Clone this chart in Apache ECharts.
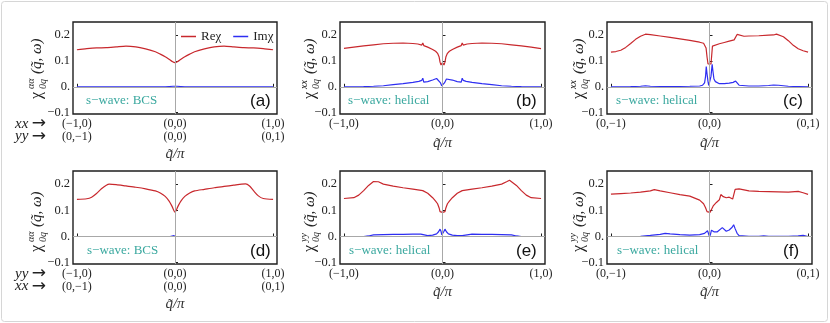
<!DOCTYPE html>
<html>
<head>
<meta charset="utf-8">
<script src="https://cdn.jsdelivr.net/npm/echarts@6/dist/echarts.min.js"></script>
<style>
  html, body { margin: 0; padding: 0; background: #fff; }
  #chart { width: 830px; height: 323px; }
</style>
</head>
<body>
<div id="chart"></div>
<script>
// tick positions and labels
const tickX = [-1, 0, 1];
const tickY = [-0.1, 0, 0.1, 0.2];
const labXline = ['(−1,0)', '(0,0)', '(1,0)'];
const labYline = ['(0,−1)', '(0,0)', '(0,1)'];

// (a) xx / yy, BCS
const reQA = [-1, -0.9, -0.8, -0.7, -0.6, -0.5, -0.4, -0.3, -0.2, -0.15, -0.1, -0.06, -0.03, 0, 0.03, 0.06, 0.1, 0.15, 0.2, 0.3, 0.4, 0.5, 0.6, 0.7, 0.8, 0.9, 1];
const reA  = [0.143, 0.147, 0.150, 0.151, 0.154, 0.157, 0.154, 0.146, 0.135, 0.126, 0.116, 0.106, 0.098, 0.093, 0.098, 0.106, 0.116, 0.126, 0.135, 0.146, 0.154, 0.157, 0.154, 0.151, 0.150, 0.147, 0.143];
const imQA = [-1, -0.1, -0.02, 0, 0.02, 0.1, 1];
const imA  = [0, 0, 0.002, 0, 0.002, 0, 0];

// (b) xx, helical
const reQB = [-1, -0.9, -0.8, -0.7, -0.6, -0.5, -0.4, -0.3, -0.25, -0.21, -0.2, -0.19, -0.15, -0.1, -0.07, -0.05, -0.035, -0.025, -0.015, -0.005, 0, 0.005, 0.015, 0.025, 0.035, 0.05, 0.07, 0.1, 0.15, 0.19, 0.2, 0.21, 0.25, 0.3, 0.4, 0.5, 0.6, 0.7, 0.8, 0.9, 1];
const reB  = [0.148, 0.153, 0.158, 0.162, 0.166, 0.168, 0.169, 0.167, 0.165, 0.161, 0.169, 0.159, 0.153, 0.144, 0.137, 0.129, 0.116, 0.095, 0.084, 0.088, 0.093, 0.088, 0.084, 0.095, 0.116, 0.129, 0.137, 0.144, 0.153, 0.159, 0.169, 0.161, 0.165, 0.167, 0.169, 0.168, 0.166, 0.162, 0.158, 0.153, 0.147];
const imQB = [-1, -0.8, -0.7, -0.6, -0.5, -0.4, -0.3, -0.24, -0.21, -0.2, -0.19, -0.15, -0.1, -0.06, -0.04, -0.02, -0.008, 0, 0.008, 0.02, 0.04, 0.06, 0.1, 0.15, 0.19, 0.2, 0.21, 0.24, 0.3, 0.4, 0.5, 0.6, 0.7, 0.8, 1];
const imB  = [0, 0.001, 0.002, 0.004, 0.008, 0.012, 0.017, 0.021, 0.025, 0.033, 0.018, 0.02, 0.026, 0.032, 0.03, 0.015, 0.004, 0, 0.004, 0.015, 0.03, 0.032, 0.026, 0.02, 0.018, 0.033, 0.025, 0.021, 0.017, 0.012, 0.008, 0.004, 0.002, 0.001, 0];

// (c) xx, helical
const reQC = [-1, -0.95, -0.9, -0.85, -0.8, -0.75, -0.7, -0.65, -0.6, -0.5, -0.4, -0.3, -0.2, -0.1, -0.06, -0.045, -0.035, -0.025, -0.015, -0.005, 0, 0.005, 0.015, 0.022, 0.03, 0.05, 0.1, 0.15, 0.2, 0.25, 0.27, 0.28, 0.3, 0.35, 0.4, 0.5, 0.6, 0.65, 0.68, 0.7, 0.75, 0.8, 0.85, 0.9, 0.95, 1];
const reC  = [0.134, 0.136, 0.141, 0.152, 0.167, 0.183, 0.195, 0.203, 0.201, 0.196, 0.191, 0.185, 0.179, 0.172, 0.168, 0.165, 0.150, 0.115, 0.088, 0.083, 0.090, 0.083, 0.088, 0.120, 0.157, 0.162, 0.166, 0.171, 0.176, 0.181, 0.185, 0.202, 0.195, 0.195, 0.196, 0.197, 0.199, 0.200, 0.203, 0.200, 0.193, 0.178, 0.160, 0.147, 0.139, 0.134];
const imQC = [-1, -0.8, -0.7, -0.65, -0.6, -0.4, -0.2, -0.1, -0.07, -0.05, -0.04, -0.033, -0.025, -0.015, -0.008, 0, 0.008, 0.015, 0.027, 0.035, 0.045, 0.06, 0.08, 0.1, 0.15, 0.2, 0.24, 0.265, 0.28, 0.3, 0.4, 0.5, 0.6, 0.65, 0.7, 0.75, 0.8, 0.9, 1];
const imC  = [0, 0.001, 0.002, 0.004, 0.002, 0.001, 0.002, 0.003, 0.006, 0.015, 0.04, 0.078, 0.05, 0.02, 0.005, 0, 0.01, 0.04, 0.087, 0.06, 0.03, 0.02, 0.014, 0.012, 0.012, 0.014, 0.017, 0.022, 0.015, 0.006, 0.003, 0.003, 0.005, 0.007, 0.006, 0.004, 0.002, 0.001, 0];

// (d) yy / xx, BCS
const reQD = [-1, -0.9, -0.85, -0.8, -0.75, -0.7, -0.67, -0.6, -0.5, -0.4, -0.3, -0.2, -0.15, -0.1, -0.06, -0.03, 0, 0.03, 0.06, 0.1, 0.15, 0.2, 0.3, 0.4, 0.5, 0.6, 0.68, 0.72, 0.76, 0.8, 0.85, 0.9, 1];
const reD  = [0.142, 0.144, 0.150, 0.164, 0.182, 0.196, 0.200, 0.198, 0.193, 0.188, 0.182, 0.174, 0.166, 0.153, 0.135, 0.115, 0.093, 0.115, 0.135, 0.153, 0.166, 0.174, 0.180, 0.186, 0.191, 0.196, 0.200, 0.201, 0.193, 0.175, 0.155, 0.145, 0.142];
const imQD = [-1, -0.05, -0.02, -0.01, 0, 0.01, 0.02, 0.05, 1];
const imD  = [0, 0, 0.003, 0.001, 0, 0.001, 0.003, 0, 0];

// (e) yy, helical
const reQE = [-1, -0.9, -0.85, -0.8, -0.75, -0.7, -0.68, -0.65, -0.6, -0.5, -0.4, -0.3, -0.2, -0.15, -0.1, -0.07, -0.05, -0.035, -0.025, -0.015, 0, 0.015, 0.025, 0.035, 0.05, 0.07, 0.1, 0.15, 0.2, 0.3, 0.4, 0.5, 0.6, 0.65, 0.68, 0.7, 0.75, 0.8, 0.85, 0.9, 1];
const reE  = [0.145, 0.148, 0.158, 0.175, 0.195, 0.210, 0.215, 0.209, 0.200, 0.192, 0.186, 0.181, 0.175, 0.165, 0.148, 0.135, 0.125, 0.110, 0.095, 0.092, 0.092, 0.092, 0.095, 0.110, 0.125, 0.135, 0.148, 0.165, 0.175, 0.181, 0.186, 0.192, 0.200, 0.209, 0.215, 0.210, 0.195, 0.175, 0.158, 0.148, 0.145];
const imQE = [-1, -0.8, -0.75, -0.7, -0.6, -0.5, -0.4, -0.3, -0.22, -0.2, -0.15, -0.1, -0.06, -0.04, -0.025, -0.015, -0.007, 0, 0.007, 0.015, 0.025, 0.04, 0.06, 0.1, 0.15, 0.2, 0.22, 0.3, 0.4, 0.5, 0.6, 0.7, 0.75, 0.8, 1];
const imE  = [0, 0, 0.002, 0.006, 0.007, 0.008, 0.008, 0.009, 0.009, 0.003, 0.003, 0.005, 0.010, 0.018, 0.028, 0.020, 0.006, 0, 0.006, 0.020, 0.028, 0.018, 0.010, 0.005, 0.003, 0.003, 0.009, 0.009, 0.008, 0.008, 0.007, 0.006, 0.002, 0, 0];

// (f) yy, helical
const reQF = [-1, -0.9, -0.8, -0.7, -0.6, -0.56, -0.54, -0.5, -0.4, -0.3, -0.2, -0.1, -0.06, -0.04, -0.025, -0.01, 0.005, 0.02, 0.04, 0.07, 0.1, 0.115, 0.125, 0.14, 0.17, 0.2, 0.235, 0.245, 0.26, 0.28, 0.3, 0.35, 0.4, 0.5, 0.6, 0.7, 0.8, 0.9, 0.95, 1];
const reF  = [0.162, 0.164, 0.166, 0.169, 0.174, 0.179, 0.177, 0.174, 0.167, 0.160, 0.154, 0.139, 0.125, 0.110, 0.095, 0.092, 0.092, 0.103, 0.118, 0.130, 0.140, 0.160, 0.166, 0.152, 0.148, 0.150, 0.143, 0.140, 0.180, 0.187, 0.182, 0.178, 0.174, 0.172, 0.171, 0.170, 0.169, 0.172, 0.167, 0.161];
const imQF = [-1, -0.8, -0.7, -0.6, -0.5, -0.45, -0.4, -0.3, -0.2, -0.1, -0.05, -0.03, -0.02, -0.01, 0, 0.01, 0.02, 0.03, 0.045, 0.06, 0.08, 0.1, 0.13, 0.15, 0.17, 0.2, 0.23, 0.245, 0.26, 0.28, 0.3, 0.4, 0.5, 0.55, 0.6, 0.8, 0.9, 0.95, 1];
const imF  = [0, 0, 0.001, 0.004, 0.008, 0.012, 0.010, 0.007, 0.005, 0.007, 0.012, 0.017, 0.022, 0.015, 0, 0.008, 0.024, 0.027, 0.018, 0.013, 0.018, 0.022, 0.034, 0.028, 0.020, 0.025, 0.035, 0.045, 0.030, 0.012, 0.003, 0.001, 0.001, 0.002, 0.001, 0.001, 0.002, 0.004, 0];

const RED = '#c8282d', BLUE = '#2e2ef2', TEAL = '#3aa89f', INK = '#1e1e1e';
const SERIF = 'Liberation Serif';

const zip = (q, v) => q.map((x, i) => [x, v[i]]);

const panels = [
  { grid: {left: 73, top: 22, width: 204, height: 92},  rows: [labXline, labYline], gap: 33, sup: 'αα', lx: 37,  ly: 99,  note: 's−wave: BCS',     nx: 86,  tx: 250, re: zip(reQA, reA), im: zip(imQA, imA), smooth: 0.25 },
  { grid: {left: 340, top: 22, width: 205, height: 92}, rows: [labXline],           gap: 22, sup: 'xx', lx: 310, ly: 99,  note: 's−wave: helical', nx: 348, tx: 516, re: zip(reQB, reB), im: zip(imQB, imB), smooth: false },
  { grid: {left: 607, top: 22, width: 205, height: 92}, rows: [labYline],           gap: 22, sup: 'xx', lx: 579, ly: 99,  note: 's−wave: helical', nx: 616, tx: 783, re: zip(reQC, reC), im: zip(imQC, imC), smooth: false },
  { grid: {left: 73, top: 171, width: 204, height: 93}, rows: [labXline, labYline], gap: 33, sup: 'αα', lx: 37,  ly: 252, note: 's−wave: BCS',     nx: 87,  tx: 250, re: zip(reQD, reD), im: zip(imQD, imD), smooth: 0.25 },
  { grid: {left: 340, top: 171, width: 205, height: 93},rows: [labXline],           gap: 21, sup: 'yy', lx: 310, ly: 252, note: 's−wave: helical', nx: 349, tx: 516, re: zip(reQE, reE), im: zip(imQE, imE), smooth: false },
  { grid: {left: 607, top: 171, width: 205, height: 93},rows: [labYline],           gap: 21, sup: 'yy', lx: 579, ly: 252, note: 's−wave: helical', nx: 617, tx: 783, re: zip(reQF, reF), im: zip(imQF, imF), smooth: false }
];
const tags = ['(a)', '(b)', '(c)', '(d)', '(e)', '(f)'];

const grids = [], xAxes = [], yAxes = [], series = [], graphics = [];

panels.forEach((p, i) => {
  const rowY = p.grid.top + p.grid.height;
  grids.push(Object.assign({show: true, borderColor: INK, borderWidth: 1.4, backgroundColor: 'transparent'}, p.grid));
  xAxes.push({
    gridIndex: i, type: 'value', min: -1.04, max: 1.04,
    name: 'q̃/π', nameLocation: 'middle', nameGap: p.gap,
    nameTextStyle: {fontFamily: SERIF, fontStyle: 'italic', fontSize: 15, color: '#333'},
    axisLine: {show: false}, splitLine: {show: false},
    axisTick: {show: true, inside: true, length: 3, customValues: tickX, lineStyle: {color: INK}},
    axisLabel: {
      customValues: tickX, margin: 4, fontFamily: SERIF, fontSize: 12, color: '#222', lineHeight: 12.5,
      formatter: v => p.rows.map(r => r[tickX.indexOf(v)]).join('\n')
    }
  });
  yAxes.push({
    gridIndex: i, type: 'value', min: -0.105, max: 0.25,
    axisLine: {show: false}, splitLine: {show: false},
    axisTick: {show: true, inside: true, length: 3, customValues: tickY, lineStyle: {color: INK}},
    axisLabel: {
      customValues: tickY, margin: 3, fontFamily: SERIF, fontSize: 12.5, color: '#222',
      formatter: v => Math.abs(v) < 1e-9 ? '0.' : (v < 0 ? '−' + Math.abs(v).toFixed(1) : v.toFixed(1))
    }
  });
  // gray axes through the origin
  series.push({
    type: 'line', xAxisIndex: i, yAxisIndex: i, data: [], z: 1, silent: true,
    markLine: {
      silent: true, symbol: 'none', animation: false, label: {show: false},
      lineStyle: {color: '#a8a8a8', width: 1, type: 'solid'},
      data: [{xAxis: 0}, {yAxis: 0}]
    }
  });
  series.push({
    name: 'Reχ', type: 'line', xAxisIndex: i, yAxisIndex: i, data: p.re, smooth: p.smooth,
    symbol: 'none', z: 3, lineStyle: {color: RED, width: 1.2}, itemStyle: {color: RED}
  });
  series.push({
    name: 'Imχ', type: 'line', xAxisIndex: i, yAxisIndex: i, data: p.im, smooth: false,
    symbol: 'none', z: 3, lineStyle: {color: BLUE, width: 1.2}, itemStyle: {color: BLUE}
  });

  // rotated y axis title
  graphics.push({
    type: 'group', x: p.lx, y: p.ly, rotation: Math.PI / 2,
    children: [
      {type: 'text', x: 0, y: 0, style: {text: 'χ', font: '16px ' + SERIF, fill: '#222', verticalAlign: 'middle'}},
      {type: 'text', x: 10, y: -6, style: {text: p.sup, font: 'italic 10px ' + SERIF, fill: '#222', verticalAlign: 'middle'}},
      {type: 'text', x: 10, y: 6, style: {text: '0q', font: 'italic 10px ' + SERIF, fill: '#222', verticalAlign: 'middle'}},
      {type: 'text', x: 25, y: 0, style: {text: '(q̃, ω)', font: 'italic 15px ' + SERIF, fill: '#222', verticalAlign: 'middle'}}
    ]
  });
  graphics.push({
    type: 'text', x: p.nx, y: rowY - 13,
    style: {text: p.note, font: '13px ' + SERIF, fill: TEAL, verticalAlign: 'middle'}
  });
  graphics.push({
    type: 'text', x: p.tx, y: rowY - 13,
    style: {text: tags[i], font: '17px Liberation Sans', fill: '#111', verticalAlign: 'middle'}
  });
});

// row labels for the two-line tick rows
[['xx', 124], ['yy', 136.5], ['yy', 274], ['xx', 286.5]].forEach(([t, y]) => {
  graphics.push({
    type: 'text', x: 15, y: y,
    style: {
      text: '{i|' + t + '} {a|→}', verticalAlign: 'middle',
      rich: {
        i: {font: 'italic 15px ' + SERIF, fill: '#222'},
        a: {font: '17px DejaVu Sans', fill: '#222'}
      }
    }
  });
});

// outer frame of the figure
graphics.push({
  type: 'rect', z: -1, shape: {x: 1.5, y: 1.5, width: 826, height: 320, r: 3},
  style: {fill: 'none', stroke: '#d6d6d6', lineWidth: 1}
});

const chart = echarts.init(document.getElementById('chart'), null, {renderer: 'canvas'});
chart.setOption({
  backgroundColor: '#fff',
  animation: false,
  legend: {
    data: ['Reχ', 'Imχ'], left: 176, top: 25, icon: 'rect', itemWidth: 15, itemHeight: 1.5, itemGap: 12,
    textStyle: {fontFamily: SERIF, fontSize: 13, color: '#222'}
  },
  grid: grids,
  xAxis: xAxes,
  yAxis: yAxes,
  series: series,
  graphic: graphics
});
</script>
</body>
</html>
